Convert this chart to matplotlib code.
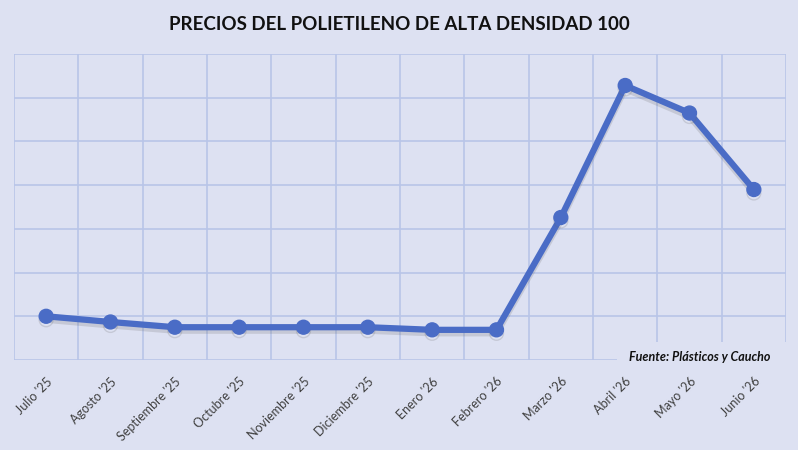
import matplotlib
matplotlib.use("Agg")
from matplotlib import pyplot as plt
import matplotlib.patheffects as pe
import matplotlib.patches as patches

months = ["Julio '25", "Agosto '25", "Septiembre '25", "Octubre '25", "Noviembre '25",
          "Diciembre '25", "Enero '26", "Febrero '26", "Marzo '26", "Abril '26",
          "Mayo '26", "Junio '26"]
prices = [1.00, 0.87, 0.75, 0.75, 0.75, 0.75, 0.69, 0.69, 3.26, 6.28, 5.65, 3.90]

bg = '#dde1f2'
grid_col = '#b8c5e8'
line_col = '#4a6cc6'

fig = plt.figure(figsize=(7.98, 4.5), dpi=100, facecolor=bg)
ax = fig.add_axes([0.0175, 0.2, 0.9675, 0.68])
ax.set_facecolor(bg)

x = list(range(len(months)))
ax.plot(x, prices, color=line_col, lw=4.5, marker='o', ms=10, zorder=3,
        path_effects=[pe.SimpleLineShadow(offset=(0, -2.5), shadow_color='#666666', alpha=0.2),
                      pe.Normal()])

ax.set_xlim(-0.5, len(months) - 0.5)
ax.set_ylim(0, 7)
ax.set_yticks(range(8))
ax.set_yticklabels([])
ax.set_xticks([i - 0.5 for i in range(len(months) + 1)], minor=False)
ax.set_xticklabels([])
ax.set_xticks(x, minor=True)
ax.set_xticklabels(months, minor=True, rotation=45, ha='right', rotation_mode='anchor',
                   fontsize=9, color='#404040', family='Lato')
ax.tick_params(axis='both', which='both', length=0)
ax.tick_params(axis='x', which='minor', pad=11)
ax.grid(True, which='major', color=grid_col, lw=1.2)
for s in ax.spines.values():
    s.set_visible(False)
ax.set_axisbelow(True)

fig.text(0.5, 0.945, 'PRECIOS DEL POLIETILENO DE ALTA DENSIDAD 100', ha='center', va='center',
         fontsize=13.5, fontweight='bold', family='Lato', color='#111111')

# source box covering the grid corner
fig.patches.append(patches.Rectangle((0.773, 0.183), 0.22, 0.057, transform=fig.transFigure,
                                     facecolor=bg, edgecolor='none', zorder=5))
fig.text(0.965, 0.207, 'Fuente: Plásticos y Caucho', ha='right', va='center', fontsize=9,
         fontweight='bold', style='italic', family='Lato', color='#111111', zorder=6)

fig.savefig('out.png', dpi=100, facecolor=bg)
